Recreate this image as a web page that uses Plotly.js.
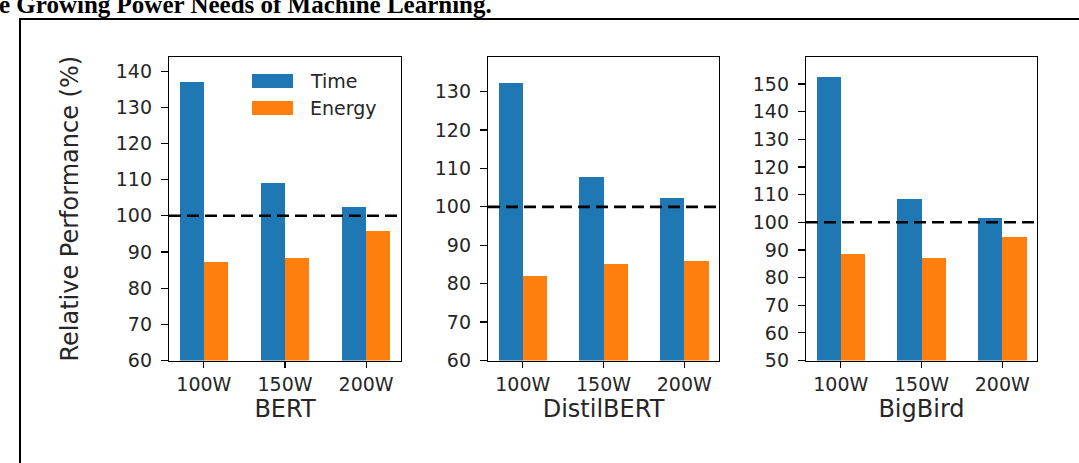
<!DOCTYPE html>
<html>
<head>
<meta charset="utf-8">
<script src="https://cdn.plot.ly/plotly-3.0.1.min.js"></script>
<style>
html,body{margin:0;padding:0;background:#fff;}
#chart{width:1079px;height:463px;}
</style>
</head>
<body>
<div id="chart"></div>
<script>
// ---- data ----
const powerCaps = ["100W", "150W", "200W"];
const models = ["BERT", "DistilBERT", "BigBird"];
const bertTime = [136.9, 109.0, 102.4];
const bertEnergy = [87.3, 88.2, 95.9];
const distilTime = [132.3, 107.8, 102.4];
const distilEnergy = [81.9, 85.0, 85.9];
const bigbirdTime = [152.4, 108.4, 101.4];
const bigbirdEnergy = [88.4, 87.2, 94.7];
const baseline = 100;
const seriesNames = ["Time", "Energy"];
const yTicksBert = [60, 70, 80, 90, 100, 110, 120, 130, 140];
const yTicksDistil = [60, 70, 80, 90, 100, 110, 120, 130];
const yTicksBigbird = [50, 60, 70, 80, 90, 100, 110, 120, 130, 140, 150];

const W = 1079, H = 463;
const blue = "#1f77b4", orange = "#ff7f0e";
const font = "DejaVu Sans, sans-serif";
const textColor = "#262626";
const timeSets = [bertTime, distilTime, bigbirdTime];
const energySets = [bertEnergy, distilEnergy, bigbirdEnergy];
const yTickSets = [yTicksBert, yTicksDistil, yTicksBigbird];
const yRanges = [[60, 143.9], [60, 139.0], [50, 159.8]];
const xPix = [[169, 401], [488, 719], [806, 1037]];
const yDom = [1 - 360.5 / H, 1 - 57 / H];

const traces = [];
const shapes = [];
const annotations = [];
const layout = {
  width: W, height: H,
  margin: {l: 0, r: 0, t: 0, b: 0},
  paper_bgcolor: "#fff", plot_bgcolor: "#fff",
  showlegend: false,
  font: {family: font, color: textColor, size: 19},
  bargap: 0
};

for (let i = 0; i < 3; i++) {
  const sx = i === 0 ? "" : String(i + 1);
  traces.push({
    type: "bar", x: powerCaps, y: timeSets[i].map(v => v - yRanges[i][0]), name: seriesNames[0],
    xaxis: "x" + sx, yaxis: "y" + sx,
    marker: {color: blue, line: {width: 0}},
    width: 0.3, offset: -0.3, base: yRanges[i][0],
    hoverinfo: "y"
  });
  traces.push({
    type: "bar", x: powerCaps, y: energySets[i].map(v => v - yRanges[i][0]), name: seriesNames[1],
    xaxis: "x" + sx, yaxis: "y" + sx,
    marker: {color: orange, line: {width: 0}},
    width: 0.3, offset: 0, base: yRanges[i][0],
    hoverinfo: "y"
  });
  layout["xaxis" + sx] = {
    domain: [xPix[i][0] / W, xPix[i][1] / W],
    anchor: "y" + sx,
    type: "category",
    range: [-0.43, 2.43],
    showline: true, mirror: true, linecolor: "#000", linewidth: 1.2,
    showgrid: false, zeroline: false,
    ticks: "outside", ticklen: 6, tickwidth: 1.2, tickcolor: "#000",
    tickfont: {size: 19, family: font, color: textColor},
    title: {text: models[i], font: {size: 24, family: font, color: textColor}, standoff: 6}
  };
  layout["yaxis" + sx] = {
    domain: yDom,
    anchor: "x" + sx,
    range: yRanges[i],
    tickvals: yTickSets[i],
    showline: true, mirror: true, linecolor: "#000", linewidth: 1.2,
    showgrid: false, zeroline: false,
    ticks: "outside", ticklen: 7, tickwidth: 1.2, tickcolor: "#000",
    ticklabelstandoff: 5,
    tickfont: {size: 19, family: font, color: textColor}
  };
  shapes.push({
    type: "line", xref: "x" + sx + " domain", yref: "y" + sx,
    x0: 0, x1: 1, y0: baseline, y1: baseline,
    line: {color: "#000", width: 2.6, dash: "12px,6px"}
  });
}
layout.yaxis.title = {text: "Relative Performance (%)", font: {size: 24, family: font, color: textColor}, standoff: 30};

// legend (drawn manually inside BERT panel)
const legendColors = [blue, orange];
const legendY = [81, 108];
for (let k = 0; k < 2; k++) {
  shapes.push({
    type: "rect", xref: "paper", yref: "paper",
    x0: 252 / W, x1: 293 / W, y0: 1 - (legendY[k] + 7) / H, y1: 1 - (legendY[k] - 7) / H,
    fillcolor: legendColors[k], line: {width: 0}
  });
  annotations.push({
    xref: "paper", yref: "paper", x: 308 / W, y: 1 - legendY[k] / H,
    xanchor: "left", yanchor: "middle", showarrow: false,
    text: seriesNames[k], font: {size: 19, family: font, color: textColor}
  });
}

// outer frame (left and top edges)
shapes.push({
  type: "path", xref: "paper", yref: "paper",
  path: `M ${20 / W} 0 L ${20 / W} ${1 - 19 / H} L 1 ${1 - 19 / H}`,
  line: {color: "#000", width: 2}
});
// cropped document title
annotations.push({
  xref: "paper", yref: "paper", x: -3 / W, y: 1 - 20 / H,
  xanchor: "left", yanchor: "bottom", showarrow: false,
  text: "<b>e Growing Power Needs of Machine Learning.</b>",
  font: {size: 25, family: "Liberation Serif, Times New Roman, serif", color: "#000"}
});

layout.shapes = shapes;
layout.annotations = annotations;

Plotly.newPlot("chart", traces, layout, {displayModeBar: false, staticPlot: true});
</script>
</body>
</html>
